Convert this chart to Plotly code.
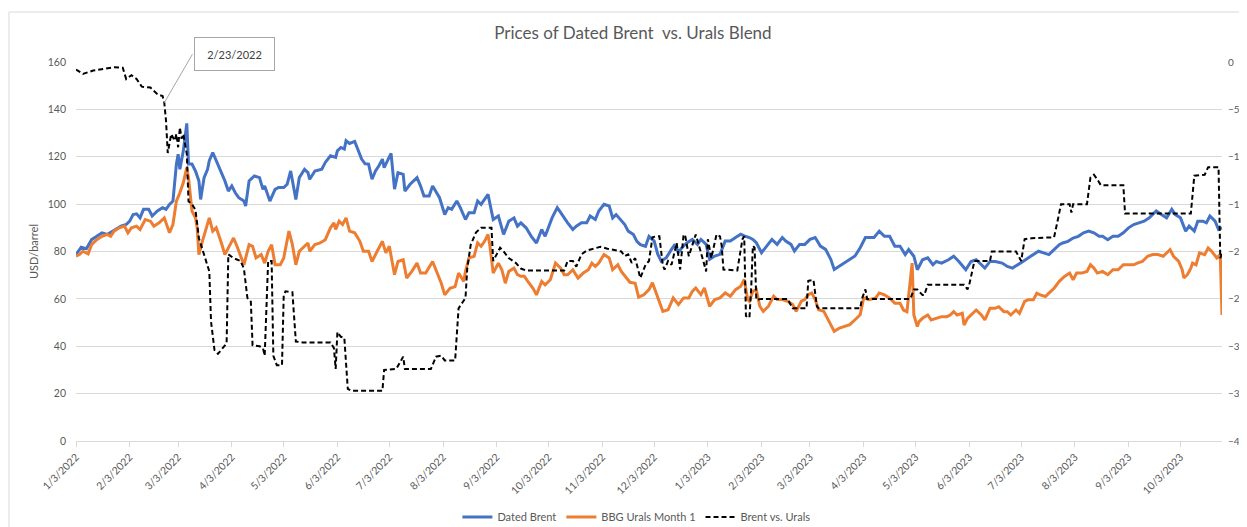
import plotly.graph_objects as go

# ---------------- data ----------------
brent = [
    ("2022-01-03", 78.7), ("2022-01-06", 81.8), ("2022-01-09", 81.2), ("2022-01-12", 85.0), ("2022-01-15", 86.4),
    ("2022-01-18", 87.9), ("2022-01-21", 87.2), ("2022-01-24", 88.6), ("2022-01-27", 90.0), ("2022-01-29", 90.7),
    ("2022-02-01", 91.4), ("2022-02-03", 92.8), ("2022-02-05", 95.6), ("2022-02-07", 95.9), ("2022-02-09", 94.2),
    ("2022-02-11", 97.8), ("2022-02-14", 97.8), ("2022-02-16", 95.0), ("2022-02-19", 97.1), ("2022-02-22", 98.5),
    ("2022-02-24", 97.8), ("2022-02-26", 99.9), ("2022-02-28", 101.3), ("2022-03-02", 116.9), ("2022-03-03", 121.1),
    ("2022-03-04", 114.7), ("2022-03-06", 122.5), ("2022-03-08", 134.1), ("2022-03-09", 116.9), ("2022-03-11", 116.9),
    ("2022-03-13", 114.0), ("2022-03-15", 109.8), ("2022-03-16", 102.0), ("2022-03-18", 111.2), ("2022-03-20", 114.7),
    ("2022-03-21", 118.3), ("2022-03-23", 121.8), ("2022-03-25", 118.3), ("2022-03-26", 116.9), ("2022-03-28", 112.6),
    ("2022-03-30", 109.8), ("2022-04-01", 105.5), ("2022-04-03", 107.7), ("2022-04-05", 104.8), ("2022-04-07", 102.7),
    ("2022-04-10", 101.3), ("2022-04-11", 99.2), ("2022-04-13", 109.8), ("2022-04-16", 111.9), ("2022-04-19", 111.2),
    ("2022-04-21", 106.2), ("2022-04-22", 107.7), ("2022-04-25", 101.3), ("2022-04-28", 106.2), ("2022-04-30", 107.0),
    ("2022-05-03", 107.0), ("2022-05-05", 108.4), ("2022-05-07", 114.0), ("2022-05-08", 109.8), ("2022-05-10", 102.0),
    ("2022-05-12", 111.2), ("2022-05-15", 114.7), ("2022-05-17", 113.3), ("2022-05-18", 110.5), ("2022-05-21", 114.0),
    ("2022-05-25", 114.7), ("2022-05-27", 117.6), ("2022-05-30", 120.4), ("2022-06-02", 119.7), ("2022-06-03", 122.5),
    ("2022-06-05", 123.9), ("2022-06-07", 123.2), ("2022-06-08", 126.8), ("2022-06-10", 125.6), ("2022-06-13", 126.5),
    ("2022-06-15", 122.5), ("2022-06-17", 119.0), ("2022-06-19", 117.0), ("2022-06-21", 116.9), ("2022-06-23", 110.5),
    ("2022-06-25", 114.0), ("2022-06-27", 116.2), ("2022-06-29", 119.0), ("2022-06-30", 115.4), ("2022-07-04", 121.4),
    ("2022-07-06", 106.3), ("2022-07-08", 113.3), ("2022-07-11", 112.6), ("2022-07-12", 105.5), ("2022-07-15", 108.4),
    ("2022-07-19", 111.2), ("2022-07-21", 107.7), ("2022-07-23", 103.4), ("2022-07-26", 103.4), ("2022-07-28", 107.7),
    ("2022-08-01", 102.7), ("2022-08-04", 95.6), ("2022-08-06", 98.5), ("2022-08-08", 97.8), ("2022-08-11", 101.3),
    ("2022-08-13", 98.5), ("2022-08-16", 93.5), ("2022-08-18", 96.4), ("2022-08-21", 96.4), ("2022-08-23", 101.3),
    ("2022-08-25", 99.9), ("2022-08-27", 102.0), ("2022-08-29", 104.1), ("2022-09-01", 93.5), ("2022-09-04", 95.0),
    ("2022-09-07", 87.2), ("2022-09-10", 92.8), ("2022-09-13", 94.2), ("2022-09-15", 90.7), ("2022-09-17", 92.1),
    ("2022-09-20", 90.0), ("2022-09-23", 86.4), ("2022-09-26", 83.6), ("2022-09-29", 89.3), ("2022-10-01", 86.4),
    ("2022-10-05", 94.2), ("2022-10-08", 98.5), ("2022-10-10", 96.4), ("2022-10-12", 94.2), ("2022-10-14", 92.1),
    ("2022-10-17", 89.3), ("2022-10-19", 90.7), ("2022-10-22", 92.1), ("2022-10-25", 92.1), ("2022-10-27", 95.0),
    ("2022-10-30", 93.5), ("2022-11-01", 97.1), ("2022-11-04", 99.9), ("2022-11-07", 99.2), ("2022-11-09", 94.2),
    ("2022-11-11", 95.6), ("2022-11-14", 92.8), ("2022-11-16", 91.4), ("2022-11-18", 88.6), ("2022-11-21", 87.2),
    ("2022-11-23", 84.3), ("2022-11-25", 82.9), ("2022-11-28", 82.2), ("2022-11-30", 86.4), ("2022-12-03", 84.4),
    ("2022-12-05", 79.0), ("2022-12-07", 76.0), ("2022-12-10", 77.4), ("2022-12-13", 80.9), ("2022-12-15", 83.0),
    ("2022-12-17", 79.5), ("2022-12-19", 81.6), ("2022-12-22", 83.7), ("2022-12-25", 85.1), ("2022-12-28", 83.0),
    ("2022-12-30", 85.1), ("2023-01-02", 83.0), ("2023-01-04", 76.7), ("2023-01-07", 78.1), ("2023-01-10", 78.8),
    ("2023-01-13", 84.4), ("2023-01-16", 84.4), ("2023-01-19", 85.9), ("2023-01-22", 87.3), ("2023-01-24", 86.6),
    ("2023-01-27", 85.9), ("2023-01-29", 85.1), ("2023-01-31", 83.7), ("2023-02-03", 79.5), ("2023-02-06", 82.3),
    ("2023-02-09", 85.1), ("2023-02-12", 83.0), ("2023-02-15", 85.9), ("2023-02-17", 84.4), ("2023-02-20", 83.0),
    ("2023-02-22", 80.2), ("2023-02-25", 83.0), ("2023-02-28", 83.0), ("2023-03-03", 85.1), ("2023-03-06", 85.9),
    ("2023-03-09", 82.3), ("2023-03-12", 80.9), ("2023-03-15", 76.7), ("2023-03-17", 72.4), ("2023-03-20", 73.8),
    ("2023-03-23", 75.2), ("2023-03-26", 76.7), ("2023-03-29", 78.1), ("2023-04-01", 81.6), ("2023-04-04", 85.9),
    ("2023-04-09", 85.9), ("2023-04-12", 88.6), ("2023-04-15", 86.4), ("2023-04-18", 86.4), ("2023-04-21", 82.2),
    ("2023-04-24", 82.2), ("2023-04-27", 78.7), ("2023-04-29", 80.8), ("2023-05-02", 78.0), ("2023-05-04", 72.3),
    ("2023-05-07", 76.5), ("2023-05-10", 77.3), ("2023-05-13", 74.4), ("2023-05-15", 75.8), ("2023-05-18", 75.1),
    ("2023-05-22", 76.5), ("2023-05-25", 78.0), ("2023-05-28", 75.8), ("2023-06-01", 72.3), ("2023-06-04", 75.8),
    ("2023-06-07", 76.5), ("2023-06-12", 73.0), ("2023-06-15", 75.8), ("2023-06-18", 75.8), ("2023-06-22", 75.1),
    ("2023-06-25", 73.7), ("2023-06-28", 73.0), ("2023-07-02", 75.1), ("2023-07-04", 75.8), ("2023-07-07", 77.3),
    ("2023-07-10", 78.7), ("2023-07-13", 80.1), ("2023-07-16", 79.4), ("2023-07-19", 78.7), ("2023-07-22", 80.8),
    ("2023-07-25", 82.9), ("2023-07-27", 83.6), ("2023-07-30", 84.3), ("2023-08-02", 85.7), ("2023-08-05", 86.4),
    ("2023-08-08", 87.9), ("2023-08-11", 88.6), ("2023-08-14", 87.9), ("2023-08-17", 86.4), ("2023-08-19", 86.4),
    ("2023-08-22", 85.0), ("2023-08-25", 86.4), ("2023-08-28", 86.4), ("2023-08-31", 87.9), ("2023-09-03", 90.0),
    ("2023-09-06", 91.4), ("2023-09-09", 92.1), ("2023-09-12", 92.8), ("2023-09-15", 94.2), ("2023-09-17", 95.6),
    ("2023-09-19", 97.1), ("2023-09-22", 95.6), ("2023-09-25", 94.2), ("2023-09-28", 97.8), ("2023-09-30", 95.6),
    ("2023-10-03", 94.2), ("2023-10-06", 88.6), ("2023-10-08", 90.7), ("2023-10-11", 88.6), ("2023-10-13", 92.8),
    ("2023-10-16", 92.8), ("2023-10-18", 92.1), ("2023-10-20", 95.0), ("2023-10-23", 92.8), ("2023-10-25", 89.3),
    ("2023-10-27", 90.0),
]

urals = [
    ("2022-01-03", 78.0), ("2022-01-05", 78.7), ("2022-01-07", 80.1), ("2022-01-10", 79.0), ("2022-01-12", 82.9),
    ("2022-01-15", 85.0), ("2022-01-18", 86.4), ("2022-01-21", 87.2), ("2022-01-23", 86.4), ("2022-01-25", 88.6),
    ("2022-01-28", 90.0), ("2022-01-31", 90.7), ("2022-02-02", 87.9), ("2022-02-04", 90.0), ("2022-02-07", 90.7),
    ("2022-02-09", 89.3), ("2022-02-12", 93.5), ("2022-02-15", 92.8), ("2022-02-17", 90.7), ("2022-02-20", 92.1),
    ("2022-02-23", 94.2), ("2022-02-24", 92.1), ("2022-02-26", 87.9), ("2022-02-28", 91.4), ("2022-03-02", 101.3),
    ("2022-03-04", 104.8), ("2022-03-06", 109.1), ("2022-03-08", 115.4), ("2022-03-09", 111.2), ("2022-03-11", 97.1),
    ("2022-03-13", 94.2), ("2022-03-14", 90.0), ("2022-03-15", 78.7), ("2022-03-17", 84.3), ("2022-03-19", 89.3),
    ("2022-03-21", 94.2), ("2022-03-23", 88.6), ("2022-03-25", 90.0), ("2022-03-28", 83.6), ("2022-03-30", 78.7),
    ("2022-04-02", 82.9), ("2022-04-04", 85.7), ("2022-04-06", 82.2), ("2022-04-07", 80.1), ("2022-04-10", 74.4),
    ("2022-04-13", 82.9), ("2022-04-15", 82.2), ("2022-04-17", 77.3), ("2022-04-20", 78.7), ("2022-04-22", 75.1),
    ("2022-04-24", 80.1), ("2022-04-26", 82.9), ("2022-04-28", 74.4), ("2022-05-01", 74.4), ("2022-05-03", 77.3),
    ("2022-05-06", 88.6), ("2022-05-08", 82.9), ("2022-05-10", 74.4), ("2022-05-12", 80.1), ("2022-05-15", 82.2),
    ("2022-05-17", 83.6), ("2022-05-18", 80.1), ("2022-05-21", 82.9), ("2022-05-24", 83.6), ("2022-05-27", 85.0),
    ("2022-05-30", 90.0), ("2022-06-01", 92.1), ("2022-06-02", 89.3), ("2022-06-04", 92.8), ("2022-06-06", 91.4),
    ("2022-06-08", 94.2), ("2022-06-10", 88.6), ("2022-06-13", 87.9), ("2022-06-16", 84.3), ("2022-06-18", 80.1),
    ("2022-06-21", 80.1), ("2022-06-23", 75.8), ("2022-06-26", 80.1), ("2022-06-29", 84.3), ("2022-07-01", 79.4),
    ("2022-07-03", 82.2), ("2022-07-06", 70.2), ("2022-07-08", 75.8), ("2022-07-11", 76.5), ("2022-07-13", 68.8),
    ("2022-07-16", 71.6), ("2022-07-19", 75.1), ("2022-07-21", 70.9), ("2022-07-24", 70.9), ("2022-07-28", 75.8),
    ("2022-07-31", 70.2), ("2022-08-02", 66.6), ("2022-08-04", 61.7), ("2022-08-07", 64.5), ("2022-08-10", 65.2),
    ("2022-08-12", 70.9), ("2022-08-15", 67.4), ("2022-08-16", 71.6), ("2022-08-18", 77.3), ("2022-08-21", 78.0),
    ("2022-08-23", 83.6), ("2022-08-25", 82.2), ("2022-08-27", 84.3), ("2022-08-29", 87.2), ("2022-08-30", 82.9),
    ("2022-09-01", 70.9), ("2022-09-04", 75.1), ("2022-09-06", 72.3), ("2022-09-08", 66.6), ("2022-09-10", 71.6),
    ("2022-09-13", 73.0), ("2022-09-15", 70.2), ("2022-09-17", 69.5), ("2022-09-19", 69.5), ("2022-09-21", 67.4),
    ("2022-09-24", 64.5), ("2022-09-26", 61.7), ("2022-09-29", 67.4), ("2022-10-01", 65.9), ("2022-10-04", 68.1),
    ("2022-10-07", 75.1), ("2022-10-10", 73.0), ("2022-10-12", 70.2), ("2022-10-14", 70.2), ("2022-10-17", 72.3),
    ("2022-10-20", 68.8), ("2022-10-23", 70.9), ("2022-10-26", 72.3), ("2022-10-28", 75.1), ("2022-10-30", 73.7),
    ("2022-11-01", 75.1), ("2022-11-04", 78.7), ("2022-11-07", 77.3), ("2022-11-09", 72.3), ("2022-11-12", 74.4),
    ("2022-11-14", 71.6), ("2022-11-17", 68.8), ("2022-11-19", 67.0), ("2022-11-22", 66.6), ("2022-11-24", 60.7),
    ("2022-11-27", 61.7), ("2022-11-30", 63.9), ("2022-12-02", 66.8), ("2022-12-05", 61.0), ("2022-12-08", 54.7),
    ("2022-12-11", 55.4), ("2022-12-14", 60.4), ("2022-12-17", 57.6), ("2022-12-20", 60.4), ("2022-12-23", 60.4),
    ("2022-12-25", 63.2), ("2022-12-27", 64.6), ("2022-12-30", 61.8), ("2023-01-01", 64.6), ("2023-01-04", 56.9),
    ("2023-01-07", 59.7), ("2023-01-10", 60.4), ("2023-01-13", 62.5), ("2023-01-16", 61.1), ("2023-01-19", 63.9),
    ("2023-01-22", 65.3), ("2023-01-24", 68.2), ("2023-01-26", 59.7), ("2023-01-27", 59.0), ("2023-01-29", 63.2),
    ("2023-01-31", 63.9), ("2023-02-02", 56.9), ("2023-02-04", 54.7), ("2023-02-07", 56.9), ("2023-02-10", 61.1),
    ("2023-02-12", 59.7), ("2023-02-15", 59.7), ("2023-02-18", 59.0), ("2023-02-21", 57.6), ("2023-02-23", 54.7),
    ("2023-02-26", 59.0), ("2023-02-28", 59.7), ("2023-03-02", 61.8), ("2023-03-04", 62.5), ("2023-03-06", 59.7),
    ("2023-03-08", 55.4), ("2023-03-11", 54.7), ("2023-03-14", 50.5), ("2023-03-17", 46.3), ("2023-03-20", 47.7),
    ("2023-03-23", 48.4), ("2023-03-26", 49.1), ("2023-03-29", 51.2), ("2023-04-01", 53.3), ("2023-04-03", 60.4),
    ("2023-04-06", 59.7), ("2023-04-10", 60.4), ("2023-04-12", 62.5), ("2023-04-15", 61.7), ("2023-04-18", 60.3),
    ("2023-04-21", 58.2), ("2023-04-24", 58.2), ("2023-04-26", 55.3), ("2023-04-28", 54.6), ("2023-05-01", 75.1),
    ("2023-05-02", 53.2), ("2023-05-04", 48.3), ("2023-05-05", 50.4), ("2023-05-07", 51.8), ("2023-05-10", 53.2),
    ("2023-05-12", 51.1), ("2023-05-15", 51.8), ("2023-05-18", 52.5), ("2023-05-21", 52.5), ("2023-05-23", 53.2),
    ("2023-05-25", 54.6), ("2023-05-27", 53.2), ("2023-05-30", 53.9), ("2023-05-31", 49.0), ("2023-06-02", 51.8),
    ("2023-06-05", 53.9), ("2023-06-07", 55.3), ("2023-06-10", 53.2), ("2023-06-12", 51.1), ("2023-06-15", 56.0),
    ("2023-06-18", 56.0), ("2023-06-20", 56.7), ("2023-06-23", 54.6), ("2023-06-25", 54.6), ("2023-06-27", 53.2),
    ("2023-06-30", 55.3), ("2023-07-02", 53.9), ("2023-07-05", 58.9), ("2023-07-07", 59.6), ("2023-07-10", 59.6),
    ("2023-07-12", 62.4), ("2023-07-14", 61.7), ("2023-07-17", 61.0), ("2023-07-19", 62.4), ("2023-07-22", 64.5),
    ("2023-07-25", 67.4), ("2023-07-28", 69.5), ("2023-07-31", 70.9), ("2023-08-02", 68.1), ("2023-08-04", 70.9),
    ("2023-08-07", 70.9), ("2023-08-10", 71.6), ("2023-08-12", 74.4), ("2023-08-14", 73.0), ("2023-08-16", 70.9),
    ("2023-08-19", 71.6), ("2023-08-22", 70.2), ("2023-08-25", 72.3), ("2023-08-28", 72.3), ("2023-08-31", 74.4),
    ("2023-09-03", 74.4), ("2023-09-06", 74.4), ("2023-09-08", 75.1), ("2023-09-11", 75.8), ("2023-09-14", 78.0),
    ("2023-09-17", 78.7), ("2023-09-20", 78.7), ("2023-09-23", 78.0), ("2023-09-27", 80.8), ("2023-09-29", 78.0),
    ("2023-10-02", 75.8), ("2023-10-04", 72.3), ("2023-10-05", 68.8), ("2023-10-07", 70.2), ("2023-10-09", 73.0),
    ("2023-10-10", 75.1), ("2023-10-12", 74.4), ("2023-10-14", 79.4), ("2023-10-17", 78.7), ("2023-10-19", 81.5),
    ("2023-10-21", 80.1), ("2023-10-24", 77.3), ("2023-10-26", 78.7), ("2023-10-27", 53.2),
]

spread = [
    ("2022-01-03", -0.8), ("2022-01-07", -1.25), ("2022-01-13", -0.9), ("2022-01-20", -0.7), ("2022-01-25", -0.55),
    ("2022-01-30", -0.6), ("2022-02-01", -1.8), ("2022-02-04", -1.4), ("2022-02-07", -1.8), ("2022-02-10", -2.6),
    ("2022-02-15", -2.7), ("2022-02-19", -3.4), ("2022-02-22", -3.6), ("2022-02-23", -4.3), ("2022-02-24", -6.2),
    ("2022-02-25", -9.6), ("2022-02-27", -7.6), ("2022-03-01", -8.3), ("2022-03-02", -7.6), ("2022-03-03", -9.0),
    ("2022-03-04", -6.9), ("2022-03-05", -8.1), ("2022-03-06", -7.6), ("2022-03-08", -9.7), ("2022-03-09", -14.7),
    ("2022-03-11", -15.0), ("2022-03-13", -15.6), ("2022-03-15", -18.6), ("2022-03-17", -19.8), ("2022-03-19", -21.0),
    ("2022-03-21", -22.1), ("2022-03-22", -27.4), ("2022-03-24", -30.4), ("2022-03-26", -30.8), ("2022-03-29", -30.1),
    ("2022-03-31", -29.7), ("2022-04-01", -20.3), ("2022-04-04", -20.7), ("2022-04-08", -21.0), ("2022-04-10", -21.8),
    ("2022-04-12", -24.9), ("2022-04-14", -25.3), ("2022-04-15", -29.9), ("2022-04-19", -30.0), ("2022-04-21", -30.2),
    ("2022-04-22", -31.0), ("2022-04-24", -21.0), ("2022-04-26", -21.0), ("2022-04-27", -31.0), ("2022-04-29", -32.0),
    ("2022-05-02", -32.0), ("2022-05-03", -24.6), ("2022-05-04", -24.2), ("2022-05-08", -24.3), ("2022-05-10", -29.5),
    ("2022-05-14", -29.6), ("2022-05-30", -29.6), ("2022-06-01", -30.2), ("2022-06-02", -32.4), ("2022-06-03", -28.5),
    ("2022-06-05", -29.0), ("2022-06-07", -29.1), ("2022-06-09", -34.5), ("2022-06-11", -34.7), ("2022-06-29", -34.7),
    ("2022-06-30", -32.5), ("2022-07-07", -32.4), ("2022-07-11", -31.1), ("2022-07-12", -32.4), ("2022-07-27", -32.4),
    ("2022-07-30", -31.1), ("2022-08-02", -31.0), ("2022-08-04", -31.5), ("2022-08-10", -31.5), ("2022-08-12", -26.0),
    ("2022-08-14", -25.5), ("2022-08-16", -24.9), ("2022-08-17", -21.8), ("2022-08-19", -19.3), ("2022-08-22", -18.0),
    ("2022-08-25", -17.5), ("2022-08-31", -17.5), ("2022-09-01", -21.0), ("2022-09-03", -20.3), ("2022-09-05", -19.6),
    ("2022-09-07", -20.0), ("2022-09-10", -20.7), ("2022-09-14", -21.2), ("2022-09-17", -21.8), ("2022-09-20", -22.0),
    ("2022-10-12", -22.0), ("2022-10-14", -21.0), ("2022-10-17", -21.0), ("2022-10-19", -21.6), ("2022-10-22", -20.3),
    ("2022-10-25", -19.9), ("2022-11-02", -19.5), ("2022-11-06", -19.7), ("2022-11-14", -20.0), ("2022-11-16", -20.5),
    ("2022-11-18", -20.3), ("2022-11-20", -21.2), ("2022-11-22", -20.7), ("2022-11-25", -22.8), ("2022-11-28", -21.4),
    ("2022-11-30", -21.0), ("2022-12-02", -18.5), ("2022-12-04", -18.4), ("2022-12-06", -18.4), ("2022-12-08", -21.5),
    ("2022-12-09", -21.9), ("2022-12-11", -21.0), ("2022-12-13", -21.4), ("2022-12-16", -19.1), ("2022-12-18", -21.9),
    ("2022-12-20", -18.2), ("2022-12-21", -18.4), ("2022-12-23", -20.5), ("2022-12-25", -19.4), ("2022-12-27", -18.2),
    ("2022-12-30", -20.1), ("2022-12-31", -20.8), ("2023-01-02", -22.1), ("2023-01-03", -18.7), ("2023-01-05", -20.7),
    ("2023-01-08", -18.2), ("2023-01-10", -18.4), ("2023-01-11", -19.4), ("2023-01-12", -21.9), ("2023-01-20", -22.0),
    ("2023-01-21", -21.0), ("2023-01-23", -18.7), ("2023-01-24", -18.4), ("2023-01-25", -26.8), ("2023-01-27", -27.0),
    ("2023-01-28", -24.0), ("2023-01-29", -19.4), ("2023-01-30", -19.6), ("2023-01-31", -25.1), ("2023-02-03", -25.0),
    ("2023-02-18", -25.0), ("2023-02-21", -26.0), ("2023-03-01", -26.0), ("2023-03-02", -23.1), ("2023-03-05", -23.0),
    ("2023-03-07", -25.8), ("2023-03-08", -26.0), ("2023-04-01", -26.0), ("2023-04-02", -25.0), ("2023-04-04", -24.0),
    ("2023-04-05", -25.0), ("2023-04-30", -25.0), ("2023-05-02", -24.0), ("2023-05-04", -24.0), ("2023-05-07", -24.6),
    ("2023-05-08", -24.6), ("2023-05-10", -23.5), ("2023-05-31", -23.5), ("2023-06-02", -24.0), ("2023-06-03", -23.5),
    ("2023-06-06", -21.0), ("2023-06-15", -21.0), ("2023-06-16", -20.0), ("2023-06-30", -20.0), ("2023-07-03", -21.0),
    ("2023-07-05", -18.7), ("2023-07-09", -18.6), ("2023-07-22", -18.5), ("2023-07-24", -16.8), ("2023-07-26", -15.0),
    ("2023-07-31", -15.0), ("2023-08-01", -15.9), ("2023-08-02", -15.0), ("2023-08-10", -15.0), ("2023-08-12", -12.2),
    ("2023-08-14", -11.9), ("2023-08-16", -12.4), ("2023-08-18", -13.0), ("2023-08-31", -13.0), ("2023-09-01", -16.0),
    ("2023-10-09", -16.0), ("2023-10-11", -12.0), ("2023-10-17", -11.9), ("2023-10-19", -11.1), ("2023-10-25", -11.1),
    ("2023-10-26", -20.7), ("2023-10-27", -20.2),
]

brent_dates = [d for d, _ in brent]
brent_values = [v for _, v in brent]
urals_dates = [d for d, _ in urals]
urals_values = [v for _, v in urals]
spread_dates = [d for d, _ in spread]
spread_values = [v for _, v in spread]

tick_dates = ["2022-01-03", "2022-02-03", "2022-03-03", "2022-04-03", "2022-05-03", "2022-06-03",
              "2022-07-03", "2022-08-03", "2022-09-03", "2022-10-03", "2022-11-03", "2022-12-03",
              "2023-01-03", "2023-02-03", "2023-03-03", "2023-04-03", "2023-05-03", "2023-06-03",
              "2023-07-03", "2023-08-03", "2023-09-03", "2023-10-03"]
tick_labels = ["1/3/2022", "2/3/2022", "3/3/2022", "4/3/2022", "5/3/2022", "6/3/2022",
               "7/3/2022", "8/3/2022", "9/3/2022", "10/3/2022", "11/3/2022", "12/3/2022",
               "1/3/2023", "2/3/2023", "3/3/2023", "4/3/2023", "5/3/2023", "6/3/2023",
               "7/3/2023", "8/3/2023", "9/3/2023", "10/3/2023"]
x_start, x_end = "2022-01-03", "2023-10-27"

callout_date = "2022-02-23"
callout_value = -4.3
callout_text = "2/23/2022"

# ---------------- figure ----------------
FONT = "Lato, 'Open Sans', sans-serif"
GREY = "#595959"
GRID = "#d9d9d9"

fig = go.Figure()
fig.add_trace(go.Scatter(x=brent_dates, y=brent_values, name="Dated Brent", mode="lines",
                         line=dict(color="#4472C4", width=3)))
fig.add_trace(go.Scatter(x=urals_dates, y=urals_values, name="BBG Urals Month 1", mode="lines",
                         line=dict(color="#ED7D31", width=3)))
fig.add_trace(go.Scatter(x=spread_dates, y=spread_values, name="Brent vs. Urals", mode="lines",
                         yaxis="y2", line=dict(color="#000000", width=2, dash="5px,3px")))

# The page body has an 8px default margin, so the figure is sized to fill the rest of the window.
fig.update_layout(
    width=1239, height=519,
    margin=dict(l=68, r=25, t=54, b=86, autoexpand=False),
    paper_bgcolor="white", plot_bgcolor="white",
    font=dict(family=FONT, color=GREY, size=10),
    title=dict(text="Prices of Dated Brent\u00a0 vs. Urals Blend", x=0.5044, xref="container",
               xanchor="center", y=0.952, yref="container", yanchor="middle",
               font=dict(size=17, color=GREY, family=FONT)),
    xaxis=dict(type="date", range=[x_start, x_end], tickmode="array", tickvals=tick_dates,
               ticktext=tick_labels, tickangle=-45, ticks="outside", ticklen=5, tickcolor=GRID,
               showgrid=False, showline=True, linecolor=GRID, linewidth=1, zeroline=False,
               tickfont=dict(size=10.5, color=GREY)),
    yaxis=dict(range=[0, 160], tick0=0, dtick=20, gridcolor=GRID, gridwidth=1, showline=False,
               zeroline=False, ticks="", ticklabelstandoff=9, tickfont=dict(size=10.5, color=GREY),
               title=dict(text="USD/barrel", standoff=6, font=dict(size=11, color=GREY))),
    yaxis2=dict(range=[-40, 0], tick0=0, dtick=5, overlaying="y", side="right", showgrid=False,
                zeroline=False, showline=False, ticks="", ticklabelstandoff=5,
                tickfont=dict(size=10, color=GREY)),
    legend=dict(orientation="h", x=0.489, xanchor="center", y=-0.2005, yanchor="middle",
                font=dict(size=11, color=GREY), bgcolor="rgba(0,0,0,0)"),
    showlegend=True,
)

# chart-area border (Excel style)
fig.add_shape(type="rect", xref="paper", yref="paper", x0=-0.0585, x1=1.06, y0=-0.3, y1=1.132,
              line=dict(color=GRID, width=1), layer="below")

# callout leader line and box
fig.add_annotation(x=callout_date, y=callout_value, xref="x", yref="y2", text="",
                   showarrow=True, arrowhead=0, arrowwidth=1, arrowcolor="#a6a6a6", ax=29, ay=-50)
fig.add_annotation(x=callout_date, y=callout_value, xref="x", yref="y2", text=callout_text,
                   showarrow=False, xshift=70, yshift=49, width=77, height=30,
                   bordercolor="#a6a6a6", borderwidth=1, borderpad=1, bgcolor="white",
                   font=dict(size=11, color="#404040", family=FONT))

fig.write_html("out.html")
